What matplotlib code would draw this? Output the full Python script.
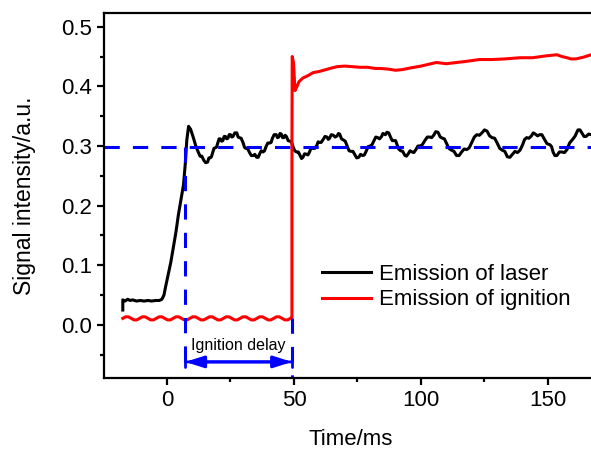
import numpy as np
import matplotlib.pyplot as plt
from matplotlib.ticker import MultipleLocator

plt.rcParams['font.family'] = ['Liberation Sans', 'DejaVu Sans']

# laser emission (time in ms, intensity)
laser_t = [-17.4, -17.4, -16.5, -15.5, -14.5, -13.5, -12, -10.5, -9, -7.5, -6, -4.5, -3, -2,
           -1.2, -0.5, 0.5, 1.5, 2.5, 3.5, 4.5, 5.5, 6.5, 7.2, 7.8, 8.5, 9.3, 10.3, 11.5,
           13, 13.7, 14.5, 15.2, 16, 16.5, 17, 17.5, 18, 18.5, 19, 19.5, 20, 20.5, 21, 21.5,
           22, 22.5, 23, 23.5, 24, 24.5, 25, 25.5, 26, 26.7, 27.5, 28, 28.5, 29.2, 30, 30.5,
           31, 31.7, 32.5, 33.2, 34, 34.6, 35.3, 35.9, 36.5, 37.1, 37.8, 38.4, 39, 39.7, 40.5,
           41, 41.5, 42.2, 43, 43.5, 44, 44.5, 45, 45.5, 46, 46.5, 47, 47.7, 48.5, 49, 49.6,
           50.3, 51, 51.7, 52.5, 53, 53.5, 54.2, 55, 55.5, 56, 56.7, 57.5, 58.2, 59, 59.5, 60,
           60.7, 61.5, 62.2, 63, 63.5, 64, 64.7, 65.5, 66.2, 67, 67.5, 68, 68.7, 69.5, 70.2,
           71, 71.7, 72.5, 73.2, 74, 74.7, 75.5, 76.2, 77, 77.7, 78.5, 79.2, 80, 80.7, 81.5,
           82.2, 83, 83.7, 84.5, 85, 85.5, 86, 86.6, 87.3, 88, 88.7, 89.5, 90, 90.5, 91.2, 92,
           92.8, 93.7, 94.3, 95, 95.7, 96.5, 97.2, 98, 98.8, 99.6, 100.5, 101.5, 102.5, 103.5,
           104.2, 105, 105.8, 106.7, 107.6, 108.5, 109.2, 110, 111, 112, 113, 114, 115, 116,
           117, 118, 119, 120, 121, 122, 123, 124, 125, 126, 127, 128, 129, 130, 131, 132,
           133, 134, 135, 136, 137, 138, 139, 140, 140.8, 141.6, 142.5, 143.5, 144.2, 145,
           145.9, 146.8, 147.6, 148.5, 149.6, 150.8, 151.4, 152, 152.7, 153.5, 154.5, 155.5,
           156.5, 157.5, 158.5, 159.5, 160.6, 161.8, 162.6, 163.5, 164.2, 165, 166, 167, 168,
           169]
laser_v = [0.025, 0.042, 0.040, 0.043, 0.041, 0.042, 0.040, 0.041, 0.040, 0.041, 0.040, 0.041,
           0.041, 0.043, 0.050, 0.065, 0.085, 0.105, 0.130, 0.155, 0.185, 0.210, 0.235, 0.270,
           0.310, 0.333, 0.328, 0.315, 0.298,
           0.283, 0.283, 0.276, 0.272, 0.273, 0.280, 0.280, 0.282, 0.289, 0.296, 0.297, 0.298,
           0.305, 0.312, 0.312, 0.308, 0.309, 0.316, 0.316, 0.312, 0.313, 0.319, 0.319, 0.315,
           0.316, 0.322, 0.322, 0.315, 0.314, 0.313, 0.305, 0.298, 0.296, 0.296, 0.289, 0.284,
           0.284, 0.286, 0.281, 0.281, 0.287, 0.292, 0.290, 0.292, 0.299, 0.305, 0.305, 0.306,
           0.313, 0.319, 0.319, 0.314, 0.315, 0.321, 0.320, 0.314, 0.314, 0.318, 0.316, 0.309,
           0.308, 0.307, 0.299, 0.292, 0.290, 0.290, 0.283, 0.279, 0.281, 0.287, 0.286, 0.285,
           0.289, 0.296, 0.296, 0.296, 0.301, 0.307, 0.306, 0.306, 0.311, 0.316, 0.315, 0.311,
           0.313, 0.319, 0.318, 0.315, 0.317, 0.321, 0.320, 0.312, 0.310, 0.308, 0.299, 0.292,
           0.291, 0.291, 0.285, 0.280, 0.281, 0.286, 0.284, 0.285, 0.292, 0.299, 0.300, 0.302,
           0.309, 0.315, 0.314, 0.312, 0.316, 0.321, 0.320, 0.319, 0.323, 0.322, 0.315, 0.309,
           0.309, 0.309, 0.303, 0.295, 0.292, 0.291, 0.284, 0.283, 0.287, 0.292, 0.290, 0.289,
           0.294, 0.300, 0.300, 0.302, 0.309, 0.315, 0.315, 0.314, 0.318, 0.324, 0.323, 0.315,
           0.313, 0.312, 0.305, 0.296, 0.293, 0.291, 0.284, 0.284, 0.290, 0.295, 0.294, 0.297,
           0.306, 0.315, 0.319, 0.318, 0.322, 0.327, 0.325, 0.317, 0.314, 0.313, 0.305, 0.296,
           0.293, 0.291, 0.282, 0.281, 0.286, 0.291, 0.289, 0.293, 0.302, 0.311, 0.314, 0.313,
           0.317, 0.322, 0.320, 0.317, 0.319, 0.319, 0.312, 0.304, 0.302, 0.299, 0.290, 0.284,
           0.284, 0.290, 0.290, 0.289, 0.294, 0.305, 0.310, 0.316, 0.327, 0.327, 0.321, 0.316,
           0.316, 0.320, 0.319, 0.318, 0.322]

# ignition emission
ign_t = [-17.4, -16.3, -15.2, -14.1, -13.0, -11.9, -10.8, -9.7, -8.6, -7.5, -6.4, -5.3, -4.2,
         -3.1, -2.0, -0.9, 0.2, 1.3, 2.4, 3.5, 4.6, 5.7, 6.8, 7.9, 9.0, 10.1, 11.2, 12.3, 13.4,
         14.5, 15.6, 16.7, 17.8, 18.9, 20.0, 21.1, 22.2, 23.3, 24.4, 25.5, 26.6, 27.7, 28.8,
         29.9, 31.0, 32.1, 33.2, 34.3, 35.4, 36.5, 37.6, 38.7, 39.8, 40.9, 42.0, 43.1, 44.2,
         45.3, 46.4, 47.5, 48.6,
         49.2, 49.2, 49.3, 49.8, 50.4, 51.2, 52, 53.5, 55.5, 57.5, 60, 62.5, 65, 67, 70, 73,
         76, 79, 82, 84, 87, 90, 92.5, 96, 100, 103, 106, 108, 110, 114, 118, 123, 128, 133,
         139, 144, 149, 153.5, 155.5, 157.5, 159, 161, 164, 167, 169]
ign_v = [0.0110, 0.0136, 0.0136, 0.0110, 0.0084, 0.0084, 0.0110, 0.0136, 0.0136, 0.0110,
         0.0084, 0.0084, 0.0110, 0.0136, 0.0136, 0.0110, 0.0084, 0.0084, 0.0110, 0.0136,
         0.0136, 0.0110, 0.0084, 0.0084, 0.0110, 0.0136, 0.0136, 0.0110, 0.0084, 0.0084,
         0.0110, 0.0136, 0.0136, 0.0110, 0.0084, 0.0084, 0.0110, 0.0136, 0.0136, 0.0110,
         0.0084, 0.0084, 0.0110, 0.0136, 0.0136, 0.0110, 0.0084, 0.0084, 0.0110, 0.0136,
         0.0136, 0.0110, 0.0084, 0.0084, 0.0110, 0.0136, 0.0136, 0.0110, 0.0084, 0.0084,
         0.0110,
         0.012, 0.300, 0.450, 0.440, 0.393, 0.400, 0.408, 0.414, 0.418, 0.423, 0.425, 0.428,
         0.431, 0.433, 0.434, 0.433, 0.432, 0.432, 0.430, 0.430, 0.429, 0.427, 0.428, 0.431,
         0.434, 0.437, 0.440, 0.439, 0.438, 0.440, 0.442, 0.445, 0.445, 0.446, 0.448, 0.448,
         0.451, 0.453, 0.450, 0.448, 0.446, 0.446, 0.449, 0.453, 0.455]

threshold = 0.298
t_laser = 7.2
t_ign = 49.2

fig = plt.figure(figsize=(5.91, 4.5), dpi=100)
ax = fig.add_axes([104/591, 72/450, 493/591, 365/450])

ax.plot(laser_t, laser_v, color='black', lw=2.2, label='Emission of laser')
ax.plot(ign_t, ign_v, color='red', lw=2.2, label='Emission of ignition')

# dashed guides
dash = dict(color='blue', lw=2.2, dashes=(5, 4.3))
ax.axhline(threshold, **dash)
ax.plot([t_laser, t_laser], [threshold, -0.071], **dash)
ax.plot([t_ign, t_ign], [0.011, -0.09], **dash)

# ignition delay arrow
ax.annotate('', xy=(t_ign, -0.062), xytext=(t_laser, -0.062),
            arrowprops=dict(arrowstyle='<|-|>,head_length=1.1,head_width=0.35',
                            color='blue', lw=2.2, shrinkA=0, shrinkB=0))
ax.annotate('', xy=(t_ign, -0.062), xytext=(t_laser, -0.062),
            arrowprops=dict(arrowstyle='|-|,widthA=0.35,widthB=0.35',
                            color='blue', lw=2, shrinkA=0, shrinkB=0))
ax.text((t_laser + t_ign) / 2, -0.034, 'Ignition delay', ha='center', va='center',
        fontsize=11.5)

ax.set_xlim(-24.8, 169.3)
ax.set_ylim(-0.089, 0.523)
ax.xaxis.set_major_locator(MultipleLocator(50))
ax.xaxis.set_minor_locator(MultipleLocator(25))
ax.yaxis.set_major_locator(MultipleLocator(0.1))
ax.yaxis.set_minor_locator(MultipleLocator(0.05))
ax.yaxis.set_major_formatter(plt.FormatStrFormatter('%.1f'))

ax.tick_params(which='both', direction='out', width=1.6, labelsize=16)
ax.tick_params(which='major', length=5)
ax.tick_params(which='minor', length=3)
for s in ax.spines.values():
    s.set_linewidth(1.6)
ax.spines['right'].set_visible(False)

ax.set_xlabel('Time/ms', fontsize=16, labelpad=13)
ax.set_ylabel('Signal intensity/a.u.', fontsize=16.5, labelpad=18)

ax.legend(loc='upper left', bbox_to_anchor=(322/591, 1 - 264/450),
          bbox_transform=fig.transFigure, frameon=False, fontsize=16,
          handlelength=2.2, handletextpad=0.35, labelspacing=0.2,
          borderpad=0, borderaxespad=0)

fig.savefig('out.png', dpi=100)
